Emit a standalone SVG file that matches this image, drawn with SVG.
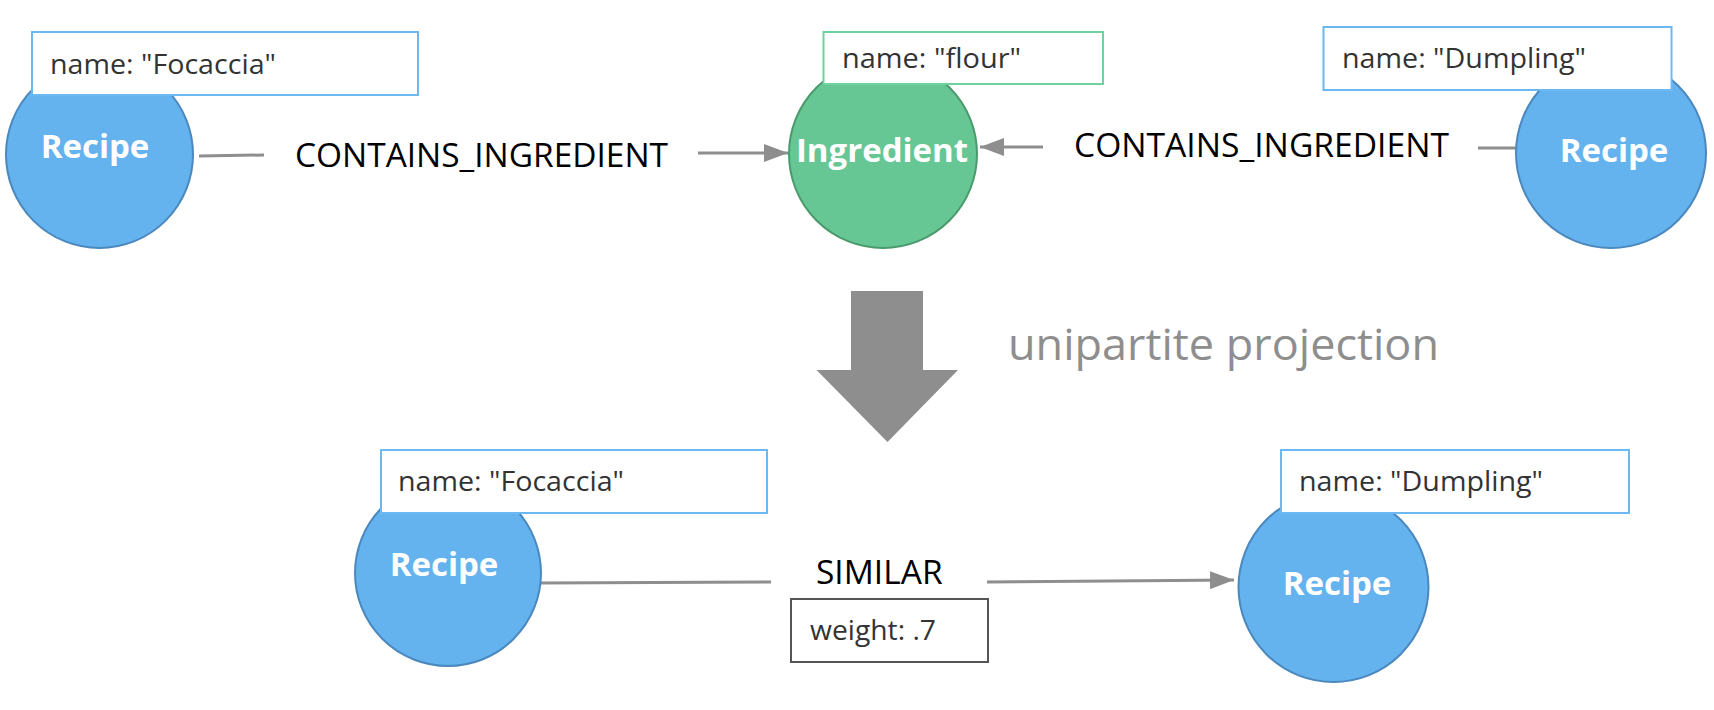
<svg xmlns="http://www.w3.org/2000/svg" width="1714" height="710" viewBox="0 0 1714 710">
<defs>
<style>
.recipe{fill:#64b3ef;stroke:#4a88bd;stroke-width:2}
.ingr{fill:#66c795;stroke:#4a9a6c;stroke-width:2}
.lbl{font-family:"Open Sans","Liberation Sans",sans-serif;font-weight:bold;font-size:33px;fill:#ffffff;text-anchor:middle}
.pbox{fill:#ffffff;stroke:#6cb8f3;stroke-width:2}
.pboxg{fill:#ffffff;stroke:#6fd19d;stroke-width:2}
.wbox{fill:#ffffff;stroke:#555555;stroke-width:2}
.prop{font-family:"Open Sans","Liberation Sans",sans-serif;font-size:27.5px;fill:#333333}
.edge{stroke:#8e8e8e;stroke-width:3;fill:none}
.elbl{font-family:"Open Sans","Liberation Sans",sans-serif;font-size:33.5px;fill:#000000}
</style>
<marker id="ah" markerWidth="24" markerHeight="18" refX="24" refY="9" orient="auto" markerUnits="userSpaceOnUse">
<path d="M0,0 L24,9 L0,18 Z" fill="#8e8e8e"/>
</marker>
</defs>
<rect width="1714" height="710" fill="#ffffff"/>
<g id="connectors">
<line class="edge" x1="199" y1="156" x2="264" y2="155"/>
<line class="edge" x1="698" y1="153" x2="788" y2="153" marker-end="url(#ah)"/>
<text class="elbl" x="295" y="167" textLength="373" lengthAdjust="spacingAndGlyphs">CONTAINS_INGREDIENT</text>
<line class="edge" x1="1516" y1="148" x2="1478" y2="148"/>
<line class="edge" x1="1043" y1="147" x2="980" y2="147" marker-end="url(#ah)"/>
<text class="elbl" x="1074" y="157" textLength="375" lengthAdjust="spacingAndGlyphs">CONTAINS_INGREDIENT</text>
<line class="edge" x1="541" y1="583" x2="771" y2="582"/>
<line class="edge" x1="987" y1="582" x2="1234" y2="580" marker-end="url(#ah)"/>
<text class="elbl" x="816" y="584">SIMILAR</text>
<rect class="wbox" x="791" y="599" width="197" height="63"/>
<text class="prop" x="810" y="640" textLength="126" lengthAdjust="spacingAndGlyphs">weight: .7</text>
</g>
<g id="projection">
<polygon points="851,291 923,291 923,370 958,370 887.5,442 816.5,370 851,370" fill="#8e8e8e"/>
<text x="1008" y="360" font-family="'Open Sans','Liberation Sans',sans-serif" font-size="43" fill="#8e8e8e" textLength="431" lengthAdjust="spacingAndGlyphs">unipartite projection</text>
</g>
<g id="recipe-focaccia-top">
<circle class="recipe" cx="99.5" cy="154.5" r="93.5"/>
<text class="lbl" x="95" y="158">Recipe</text>
<rect class="pbox" x="32" y="32" width="386" height="63"/>
<text class="prop" x="50" y="74" textLength="226" lengthAdjust="spacingAndGlyphs">name: "Focaccia"</text>
</g>
<g id="ingredient-flour">
<circle class="ingr" cx="883" cy="154" r="94"/>
<text class="lbl" x="882" y="162">Ingredient</text>
<rect class="pboxg" x="823.5" y="32" width="279.5" height="52"/>
<text class="prop" x="842" y="68" textLength="179" lengthAdjust="spacingAndGlyphs">name: "flour"</text>
</g>
<g id="recipe-dumpling-top">
<circle class="recipe" cx="1611" cy="153" r="95"/>
<text class="lbl" x="1614" y="162">Recipe</text>
<rect class="pbox" x="1323.5" y="27" width="348" height="63"/>
<text class="prop" x="1342" y="68" textLength="244" lengthAdjust="spacingAndGlyphs">name: "Dumpling"</text>
</g>
<g id="recipe-focaccia-bottom">
<circle class="recipe" cx="448" cy="573" r="93"/>
<text class="lbl" x="444" y="576">Recipe</text>
<rect class="pbox" x="381" y="450" width="386" height="63"/>
<text class="prop" x="398" y="491" textLength="226" lengthAdjust="spacingAndGlyphs">name: "Focaccia"</text>
</g>
<g id="recipe-dumpling-bottom">
<circle class="recipe" cx="1333.5" cy="587" r="95"/>
<text class="lbl" x="1337" y="595">Recipe</text>
<rect class="pbox" x="1281" y="450" width="348" height="63"/>
<text class="prop" x="1299" y="491" textLength="244" lengthAdjust="spacingAndGlyphs">name: "Dumpling"</text>
</g>
</svg>
